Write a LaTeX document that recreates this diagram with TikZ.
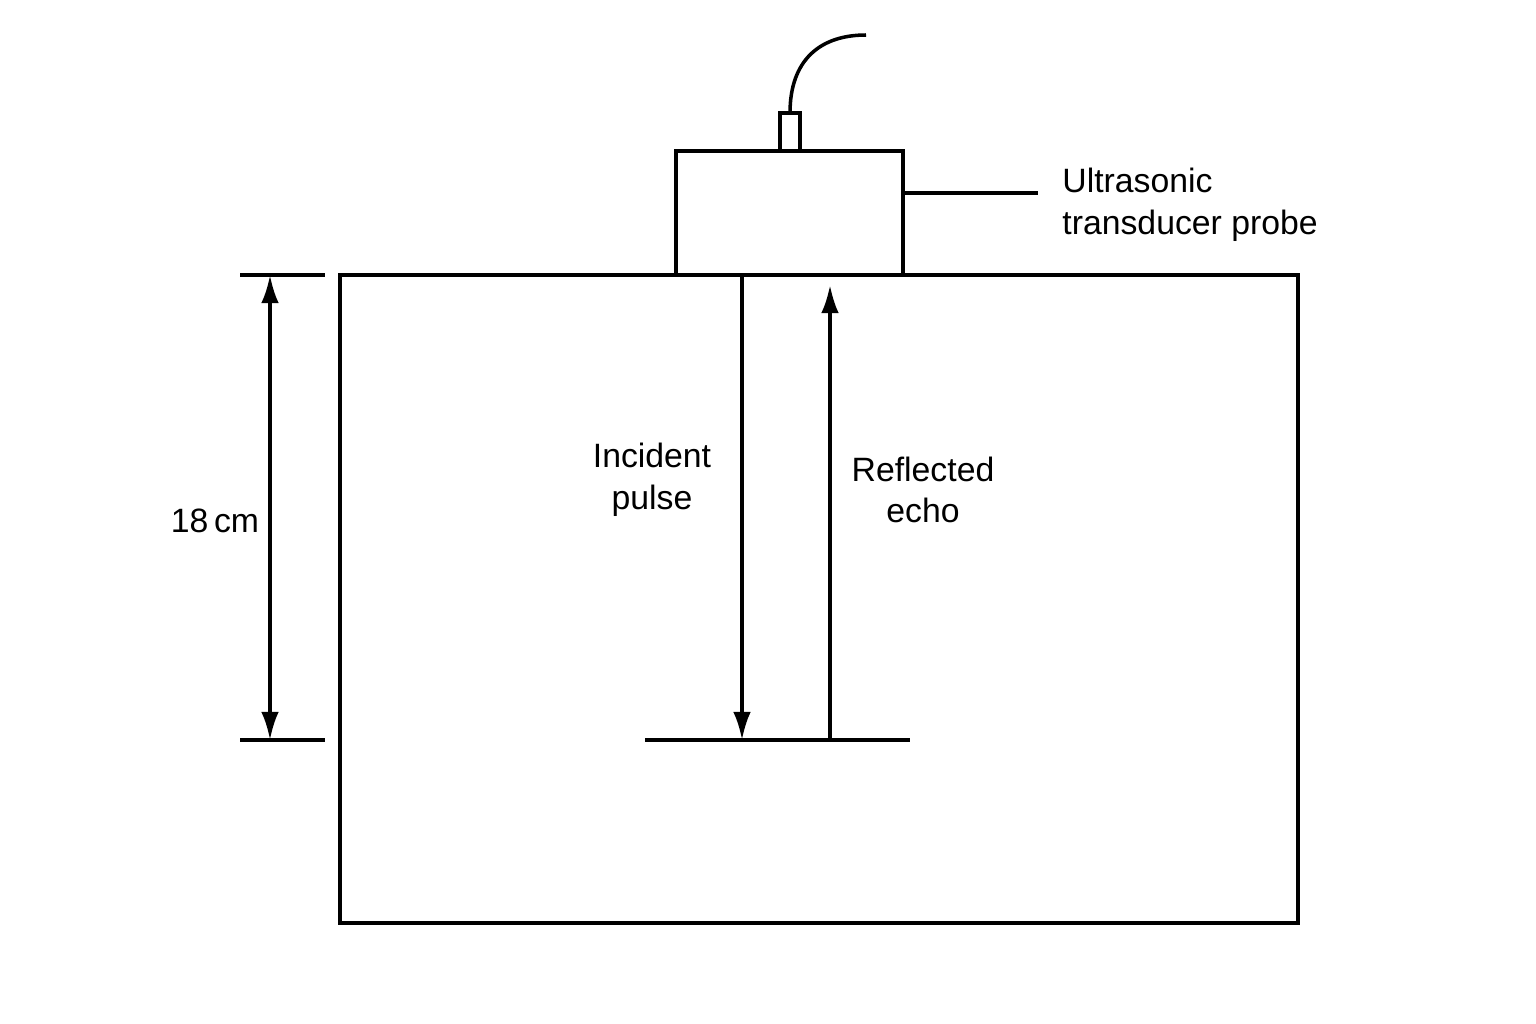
\documentclass[tikz,border=0pt]{standalone}
\usepackage{fontspec}
\setmainfont{Liberation Sans}
\usetikzlibrary{arrows.meta}

\begin{document}
\begin{tikzpicture}[
    x=0.01cm, y=-0.01cm,
    Line/.style={line width=1pt},
    Arrow/.style={Line,{Latex[length=8pt,width=5pt]}-{Latex[length=8pt,width=5pt]}},
    ArrowDown/.style={Line,-{Latex[length=8pt,width=5pt]}},
    Label/.style={font=\fontsize{9.6}{11.8}\selectfont,align=center},
    ]
    \useasboundingbox (0,0) rectangle (1536,1024);

    \draw[Line] (340,275) rectangle (1298,923);
    \draw[Line,fill=white] (676,151) rectangle (903,275);
    \draw[Line] (780,113) rectangle (800,151);
    \draw[Line] (790,113) .. controls (790,60) and (820,35) .. (866,35);

    \coordinate (probe) at (903,193);
    \coordinate (leader) at (1038,193);
    \draw[Line] (probe) -- (leader);
    \node[Label,align=left,anchor=west] (probetext) at (1050,205) {Ultrasonic\\transducer probe};

    % depth dimension
    \coordinate (top) at (270,275);
    \coordinate (bottom) at (270,740);
    \draw[Line] (240,275) -- (325,275);
    \draw[Line] (240,740) -- (325,740);
    \draw[Arrow] (top) -- (bottom);
    \node[Label] (depth) at (215,521) {18\,cm};

    % reflector and pulses
    \coordinate (refl-l) at (645,740);
    \coordinate (refl-r) at (910,740);
    \draw[Line] (refl-l) -- (refl-r);
    \coordinate (in-s) at (742,275);
    \coordinate (in-e) at (742,740);
    \coordinate (ec-s) at (830,740);
    \coordinate (ec-e) at (830,285);
    \draw[ArrowDown] (in-s) -- (in-e);
    \draw[ArrowDown] (ec-s) -- (ec-e);
    \node[Label] (incident) at (652,480) {Incident\\pulse};
    \node[Label] (echo) at (923,490) {Reflected\\echo};
\end{tikzpicture}
\end{document}
